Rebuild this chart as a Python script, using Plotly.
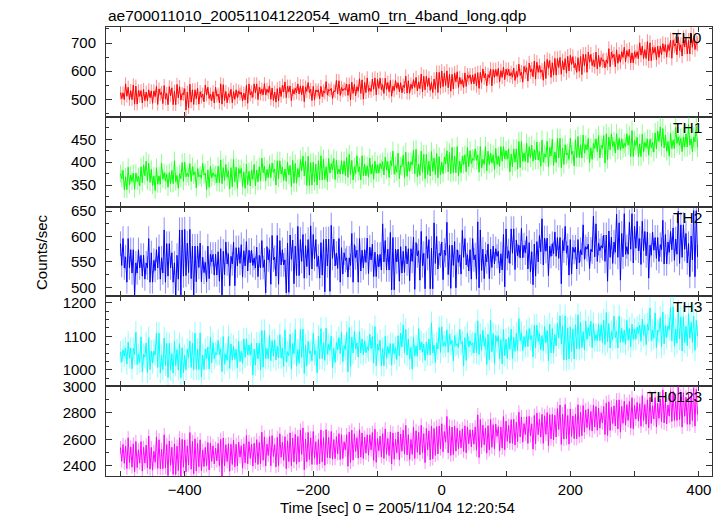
import math
import plotly.graph_objects as go
from plotly.subplots import make_subplots

TITLE = "ae700011010_20051104122054_wam0_trn_4band_long.qdp"
X_TITLE = "Time [sec] 0 = 2005/11/04 12:20:54"
Y_TITLE = "Counts/sec"
BAND_NAMES = ["TH0", "TH1", "TH2", "TH3", "TH0123"]
BAND_COLORS = ["#ff0000", "#00ff00", "#0000ff", "#00ffff", "#ff00ff"]
ERR_COLORS = ["rgba(255,0,0,0.45)", "rgba(0,255,0,0.45)", "rgba(0,0,255,0.45)",
              "rgba(0,255,255,0.45)", "rgba(255,0,255,0.45)"]

TIME_START = -500
BIN_SEC = 2

th0 = [
    523, 503, 523, 499, 555, 511, 543, 499, 531, 499, 551, 483, 547, 483, 531, 511, 531, 487, 535, 495,
    526, 494, 534, 506, 530, 486, 530, 510, 546, 482, 537, 517, 525, 485, 549, 501, 521, 481, 545, 513,
    541, 481, 529, 481, 553, 505, 545, 497, 521, 517, 538, 462, 526, 470, 554, 490, 534, 482, 534, 502,
    539, 483, 527, 507, 519, 491, 551, 515, 543, 503, 519, 495, 527, 487, 543, 511, 519, 487, 555, 483,
    552, 496, 528, 488, 520, 508, 536, 488, 528, 500, 534, 506, 530, 518, 526, 494, 522, 498, 550, 486,
    555, 515, 527, 507, 555, 523, 555, 499, 543, 519, 536, 516, 556, 516, 536, 524, 548, 500, 540, 496,
    526, 490, 538, 494, 542, 510, 550, 526, 562, 506, 547, 527, 547, 495, 535, 519, 539, 523, 555, 519,
    548, 516, 548, 492, 544, 528, 560, 524, 536, 496, 546, 498, 534, 526, 534, 502, 546, 510, 530, 522,
    563, 515, 535, 531, 539, 503, 531, 527, 567, 519, 566, 514, 542, 530, 538, 534, 554, 514, 554, 498,
    561, 521, 553, 513, 545, 529, 573, 521, 569, 501, 560, 524, 576, 528, 540, 528, 572, 536, 576, 516,
    571, 539, 575, 535, 552, 521, 575, 535, 560, 527, 567, 511, 547, 531, 567, 539, 559, 527, 559, 523,
    550, 542, 582, 522, 566, 522, 554, 538, 570, 542, 578, 530, 562, 538, 590, 526, 582, 534, 582, 546,
    576, 532, 560, 524, 572, 536, 596, 524, 596, 540, 601, 545, 593, 549, 601, 541, 589, 529, 589, 537,
    594, 562, 598, 542, 578, 554, 570, 542, 594, 546, 587, 575, 587, 555, 587, 555, 591, 547, 595, 539,
    596, 560, 608, 576, 592, 548, 588, 576, 608, 548, 606, 578, 606, 582, 610, 562, 602, 578, 614, 570,
    607, 587, 607, 583, 595, 579, 611, 567, 599, 579, 625, 585, 597, 561, 617, 597, 613, 565, 629, 597,
    608, 580, 636, 572, 632, 596, 620, 596, 604, 568, 634, 574, 642, 610, 638, 578, 630, 586, 646, 586,
    645, 613, 649, 589, 637, 605, 645, 593, 653, 601, 656, 624, 652, 612, 628, 596, 648, 600, 652, 588,
    660, 620, 660, 596, 668, 632, 660, 620, 640, 616, 668, 608, 656, 616, 648, 636, 640, 612, 640, 628,
    680, 616, 668, 648, 660, 616, 676, 628, 660, 632, 669, 649, 685, 633, 673, 653, 677, 629, 665, 629,
    669, 649, 669, 645, 701, 657, 689, 645, 677, 645, 705, 637, 701, 637, 685, 665, 685, 641, 689, 649,
    690, 658, 698, 670, 694, 650, 694, 674, 710, 646, 710, 690, 698, 658, 722, 674, 694, 654, 718, 686,
    721, 661, 709, 661, 733, 685, 725, 677, 701, 697,
]

th1 = [
    375, 364, 382, 340, 368, 340, 389, 350, 372, 358, 376, 341, 376, 358, 369, 348, 390, 355, 394,
    370, 402, 359, 398, 356, 384, 349, 370, 338, 388, 352, 370, 352, 398, 363, 377, 359, 374, 345, 377,
    353, 382, 353, 403, 357, 371, 343, 375, 364, 399, 358, 400, 368, 376, 368, 397, 358, 390, 372, 379,
    344, 386, 368, 372, 365, 397, 372, 376, 340, 383, 345, 391, 366, 377, 369, 373, 355, 391, 355, 405,
    353, 388, 360, 395, 367, 381, 342, 388, 346, 406, 357, 389, 343, 386, 375, 386, 347, 379, 343, 396,
    351, 380, 348, 383, 362, 395, 348, 383, 357, 390, 359, 409, 377, 391, 359, 384, 366, 395, 366, 398,
    378, 385, 350, 403, 364, 403, 374, 389, 360, 385, 358, 400, 372, 393, 347, 404, 354, 397, 354, 386,
    367, 406, 381, 413, 370, 402, 349, 413, 349, 399, 350, 400, 357, 396, 350, 403, 361, 414, 361, 407,
    362, 390, 358, 408, 376, 397, 383, 408, 362, 404, 374, 385, 374, 403, 374, 403, 371, 410, 367, 417,
    372, 404, 361, 390, 375, 414, 379, 390, 361, 414, 370, 395, 370, 392, 367, 409, 374, 395, 363, 402,
    376, 394, 376, 397, 386, 401, 372, 411, 383, 401, 367, 403, 392, 424, 374, 392, 378, 420, 364, 392,
    390, 415, 366, 422, 369, 401, 380, 401, 394, 426, 375, 428, 368, 396, 371, 424, 378, 417, 364, 417,
    373, 402, 370, 423, 380, 409, 373, 419, 366, 412, 372, 400, 375, 411, 396, 425, 379, 421, 375, 432,
    377, 413, 377, 434, 370, 402, 377, 413, 395, 416, 379, 432, 390, 425, 397, 408, 404, 429, 404, 415,
    378, 434, 388, 406, 395, 434, 381, 424, 395, 420, 398, 416, 384, 430, 395, 413, 391, 434, 402, 434,
    407, 425, 407, 429, 379, 418, 390, 429, 400, 429, 385, 445, 388, 445, 402, 420, 402, 441, 399, 434,
    409, 437, 402, 427, 405, 444, 405, 423, 391, 448, 400, 418, 411, 446, 390, 432, 414, 450, 393, 422,
    399, 452, 409, 452, 388, 431, 395, 438, 416, 420, 406, 452, 417, 424, 392, 449, 410, 456, 410, 438,
    409, 459, 420, 438, 427, 452, 399, 431, 406, 441, 430, 451, 423, 458, 409, 437, 430, 458, 398, 462,
    406, 455, 427, 462, 434, 445, 420, 462, 427, 452, 426, 451, 430, 441, 433, 462, 437, 458, 412, 469,
    412, 447, 436, 454, 412, 440, 412, 461, 422, 444, 432, 450, 415, 450, 432, 443, 422, 464, 429, 468,
    445, 477, 434, 473, 431, 459, 424, 445, 413, 463, 430, 448, 430, 476, 441, 455, 437, 452, 423, 455,
    433, 462, 433, 483, 437, 451, 423, 455, 444, 479, 432,
]

th2 = [
    586, 543, 596, 538, 560, 510, 596, 538, 574, 528, 574, 483, 548, 528, 574, 538, 563, 522, 563, 516,
    548, 538, 596, 510, 568, 510, 553, 533, 574, 538, 580, 516, 558, 528, 613, 510, 586, 522, 586, 538,
    568, 510, 548, 483, 563, 516, 613, 483, 613, 522, 614, 523, 587, 529, 614, 517, 581, 484, 581, 511,
    581, 539, 587, 511, 559, 529, 549, 511, 581, 517, 565, 550, 565, 524, 565, 524, 570, 512, 576, 485,
    571, 525, 589, 546, 566, 503, 561, 546, 589, 503, 578, 542, 578, 547, 584, 520, 572, 542, 590, 532,
    573, 548, 573, 543, 558, 538, 579, 521, 563, 538, 592, 539, 554, 489, 580, 554, 574, 506, 602, 554,
    559, 522, 602, 506, 592, 544, 574, 544, 554, 489, 587, 490, 603, 555, 593, 507, 581, 523, 620, 523,
    594, 551, 604, 518, 582, 541, 594, 524, 621, 536, 604, 556, 594, 541, 561, 518, 588, 524, 594, 491,
    595, 542, 595, 492, 622, 557, 595, 542, 567, 537, 596, 510, 578, 526, 568, 553, 558, 520, 558, 543,
    606, 510, 584, 558, 573, 510, 596, 532, 573, 538, 574, 549, 597, 527, 579, 554, 585, 521, 569, 521,
    565, 540, 565, 534, 625, 550, 592, 534, 575, 534, 608, 495, 598, 495, 575, 550, 575, 512, 580, 528,
    571, 529, 581, 546, 576, 513, 576, 551, 599, 496, 588, 562, 572, 514, 610, 542, 567, 497, 600, 557,
    594, 497, 577, 497, 627, 547, 600, 536, 567, 562, 589, 515, 573, 563, 628, 525, 583, 498, 583, 543,
    590, 499, 574, 549, 564, 526, 612, 559, 596, 544, 564, 532, 574, 516, 596, 554, 564, 516, 629, 499,
    613, 533, 575, 517, 565, 550, 585, 517, 575, 539, 581, 546, 576, 561, 571, 528, 566, 534, 604, 501,
    615, 557, 572, 547, 615, 567, 615, 535, 593, 562, 583, 558, 616, 558, 583, 568, 600, 536, 588, 530,
    570, 505, 585, 522, 590, 550, 602, 570, 635, 544, 597, 571, 597, 523, 581, 561, 586, 566, 609, 561,
    598, 557, 598, 507, 592, 572, 620, 567, 582, 524, 594, 526, 579, 569, 579, 536, 594, 548, 574, 564,
    623, 555, 580, 575, 585, 537, 575, 570, 640, 560, 625, 551, 587, 572, 582, 577, 603, 551, 603, 512,
    611, 559, 599, 547, 589, 569, 644, 559, 627, 514, 606, 560, 645, 565, 580, 565, 628, 575, 645, 548,
    620, 577, 630, 572, 596, 545, 630, 572, 610, 562, 609, 518, 583, 563, 609, 573, 598, 557, 598, 551,
    584, 574, 632, 546, 604, 546, 589, 569, 610, 574, 617, 553, 595, 565, 650, 547, 623, 559, 623, 575,
    606, 548, 586, 521, 601, 554, 651, 521, 651, 560,
]

th3 = [
    1053, 1023, 1059, 1041, 1065, 1017, 1083, 1035, 1065, 1003, 1064, 1046, 1112, 1016, 1046, 1022, 1098, 994, 1046,
    1038, 1080, 992, 1096, 1001, 1056, 1020, 1056, 1044, 1110, 1007, 1109, 991, 1043, 1000, 1095, 1013, 1079, 977, 1079,
    999, 1048, 990, 1085, 1012, 1060, 999, 1078, 976, 1066, 991, 1043, 1000, 1061, 1037, 1086, 1007, 1079, 1000, 1109,
    1001, 1062, 1001, 1110, 978, 1044, 1001, 1062, 1032, 1068, 1002, 1097, 1021, 1081, 1033, 1051, 1045, 1088, 1045, 1063,
    995, 1099, 1017, 1047, 1029, 1099, 1004, 1077, 1029, 1071, 1031, 1061, 1006, 1085, 1025, 1055, 1019, 1092, 1037, 1092,
    1044, 1074, 1044, 1080, 984, 1062, 1014, 1080, 1032, 1080, 999, 1117, 1008, 1117, 1033, 1063, 1033, 1103, 1027, 1087,
    1041, 1089, 1029, 1071, 1035, 1105, 1035, 1065, 1010, 1119, 1024, 1054, 1042, 1106, 1002, 1078, 1048, 1120, 1011, 1060,
    1019, 1121, 1037, 1121, 989, 1073, 1012, 1085, 1049, 1055, 1027, 1109, 1045, 1057, 991, 1100, 1033, 1123, 1033, 1081,
    1028, 1124, 1046, 1076, 1058, 1101, 1006, 1064, 1022, 1082, 1060, 1096, 1048, 1112, 1024, 1072, 1060, 1112, 994, 1126,
    1010, 1098, 1050, 1114, 1062, 1080, 1038, 1114, 1050, 1092, 1045, 1087, 1051, 1069, 1057, 1106, 1063, 1099, 1020, 1129,
    1012, 1076, 1058, 1088, 1012, 1064, 1012, 1100, 1034, 1070, 1048, 1078, 1014, 1078, 1048, 1066, 1030, 1102, 1042, 1109,
    1068, 1134, 1050, 1120, 1044, 1092, 1032, 1068, 1002, 1098, 1041, 1071, 1041, 1123, 1059, 1083, 1053, 1077, 1028, 1083,
    1044, 1092, 1044, 1140, 1050, 1074, 1022, 1080, 1062, 1126, 1052, 1128, 1070, 1082, 1070, 1119, 1052, 1106, 1076, 1088,
    1026, 1102, 1072, 1078, 1066, 1121, 1078, 1084, 1012, 1096, 1028, 1110, 1068, 1086, 1074, 1080, 1050, 1110, 1050, 1146,
    1046, 1106, 1058, 1118, 1070, 1094, 1016, 1106, 1030, 1148, 1054, 1108, 1018, 1102, 1084, 1102, 1032, 1090, 1018, 1120,
    1042, 1091, 1033, 1097, 1061, 1121, 1033, 1097, 1055, 1109, 1057, 1153, 1087, 1111, 1057, 1099, 1069, 1117, 1069, 1123,
    1090, 1102, 1038, 1133, 1066, 1133, 1084, 1108, 1060, 1102, 1057, 1129, 1081, 1117, 1027, 1136, 1050, 1123, 1050, 1105,
    1071, 1138, 1095, 1161, 1077, 1131, 1029, 1161, 1029, 1125, 1032, 1128, 1055, 1122, 1032, 1134, 1062, 1164, 1062, 1141,
    1066, 1114, 1059, 1145, 1090, 1126, 1102, 1145, 1066, 1138, 1087, 1105, 1087, 1135, 1087, 1135, 1081, 1148, 1075, 1171,
    1084, 1138, 1065, 1114, 1090, 1160, 1096, 1114, 1065, 1160, 1082, 1124, 1082, 1118, 1076, 1148, 1088, 1124, 1069, 1136,
    1091, 1121, 1091, 1127, 1109, 1133, 1085, 1151, 1103, 1133, 1075, 1136, 1118, 1184, 1088, 1118, 1094, 1170, 1066, 1118,
    1114, 1156, 1068, 1172, 1077, 1132, 1096, 1132, 1120, 1186, 1086, 1188, 1070, 1122, 1079, 1174, 1092, 1158, 1056, 1158,
    1081, 1130, 1072, 1167, 1094, 1142, 1081, 1160, 1058, 1148, 1100,
]

N = min(len(th0), len(th1), len(th2), len(th3))
th0, th1, th2, th3 = th0[:N], th1[:N], th2[:N], th3[:N]
# TH0123 is the sum of the four energy bands
th0123 = [a + b + c + d for a, b, c, d in zip(th0, th1, th2, th3)]

SERIES = [th0, th1, th2, th3, th0123]
times = [TIME_START + BIN_SEC * i for i in range(N)]

Y_RANGES = [[438, 757], [303, 499], [482, 659], [951, 1219], [2321, 3003]]
Y_DTICK = [100, 50, 50, 100, 200]
Y_MINOR = [50, 25, 25, 25, 100]
X_RANGE = [-522.5, 420.5]

FONT = "Liberation Sans, Arial, Helvetica, sans-serif"

fig = make_subplots(rows=5, cols=1, shared_xaxes=True, vertical_spacing=0)

for i, vals in enumerate(SERIES):
    errs = [math.sqrt(v) for v in vals]
    fig.add_trace(
        go.Scatter(
            x=times, y=vals, mode="lines",
            line=dict(color=BAND_COLORS[i], width=1),
            error_y=dict(type="data", array=errs, color=ERR_COLORS[i], thickness=1, width=0),
            showlegend=False, hoverinfo="skip",
        ),
        row=i + 1, col=1,
    )
    fig.update_yaxes(
        range=Y_RANGES[i], dtick=Y_DTICK[i], tick0=0,
        minor=dict(dtick=Y_MINOR[i], tick0=0, ticks="inside", ticklen=3, tickcolor="#333"),
        row=i + 1, col=1,
    )

fig.update_xaxes(
    range=X_RANGE, dtick=200, tick0=0,
    minor=dict(dtick=100, tick0=0, ticks="inside", ticklen=5, tickcolor="#333"),
    ticks="inside", ticklen=5, tickcolor="#333",
    showline=True, linecolor="#333", linewidth=1, mirror="ticks",
    showgrid=False, zeroline=False,
    tickfont=dict(family=FONT, size=15, color="black"),
)
fig.update_yaxes(
    ticks="inside", ticklen=6, tickcolor="#333",
    showline=True, linecolor="#333", linewidth=1, mirror="ticks",
    showgrid=False, zeroline=False, ticklabelstandoff=6,
    tickfont=dict(family=FONT, size=15, color="black"),
)

# page body has an 8px margin; figure coordinates = window coordinates - 8
OFF = 8
W, H = 724 - OFF, 516 - OFF
PLOT_L, PLOT_R, PLOT_T, PLOT_B = 106 - OFF, 712 - OFF, 27 - OFF, 476 - OFF
pw, ph = PLOT_R - PLOT_L, PLOT_B - PLOT_T

def px(xw):
    return (xw - OFF - PLOT_L) / pw

def py(yw):
    return (PLOT_B - (yw - OFF)) / ph

annotations = []
for i, name in enumerate(BAND_NAMES):
    top_w = 27 + (476 - 27) * i / 5.0
    annotations.append(dict(
        text=name, xref="paper", yref="paper", x=px(704), y=py(top_w + 10.5),
        xanchor="right", yanchor="middle", showarrow=False,
        font=dict(family=FONT, size=15.5, color="black"),
    ))
annotations.append(dict(
    text=TITLE, xref="paper", yref="paper", x=px(106), y=py(16),
    xanchor="left", yanchor="middle", showarrow=False,
    font=dict(family=FONT, size=15.5, color="black"),
))
annotations.append(dict(
    text=X_TITLE, xref="paper", yref="paper", x=px(397), y=py(507),
    xanchor="center", yanchor="middle", showarrow=False,
    font=dict(family=FONT, size=15, color="black"),
))
annotations.append(dict(
    text=Y_TITLE, xref="paper", yref="paper", x=px(41), y=py(252),
    xanchor="center", yanchor="middle", showarrow=False, textangle=-90,
    font=dict(family=FONT, size=15, color="black"),
))

fig.update_layout(
    width=W, height=H,
    margin=dict(l=PLOT_L, r=W - PLOT_R, t=PLOT_T, b=H - PLOT_B, pad=0),
    paper_bgcolor="white", plot_bgcolor="white",
    annotations=annotations,
    showlegend=False,
)

fig.write_html("out.html")
